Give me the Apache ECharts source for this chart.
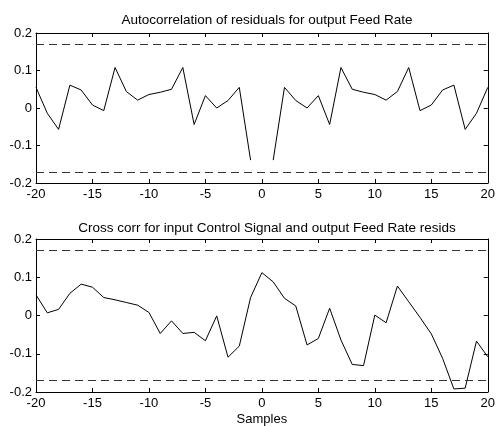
<!DOCTYPE html>
<html><head><meta charset="utf-8">
<script src="https://cdn.jsdelivr.net/npm/echarts@6/dist/echarts.min.js"></script>
<style>html,body{margin:0;padding:0;background:#fff}#c{width:498px;height:427px}</style>
</head><body><div id="c"></div>
<script>
const lags = [-20,-19,-18,-17,-16,-15,-14,-13,-12,-11,-10,-9,-8,-7,-6,-5,-4,-3,-2,-1,0,1,2,3,4,5,6,7,8,9,10,11,12,13,14,15,16,17,18,19,20];
const autoCorr = [0.055,-0.014,-0.057,0.061,0.048,0.008,-0.007,0.108,0.044,0.021,0.036,0.042,0.050,0.108,-0.044,0.033,0.000,0.020,0.055,-0.139,
  null,
  -0.139,0.055,0.020,0.000,0.033,-0.044,0.108,0.050,0.042,0.036,0.021,0.044,0.108,-0.007,0.008,0.048,0.061,-0.057,-0.014,0.055];
const crossCorr = [0.054,0.007,0.016,0.058,0.082,0.074,0.047,0.041,0.034,0.027,0.008,-0.047,-0.014,-0.047,-0.044,-0.066,-0.001,-0.109,-0.080,0.047,
  0.112,0.088,0.045,0.025,-0.077,-0.060,0.019,-0.064,-0.128,-0.131,0.001,-0.019,0.077,0.036,-0.005,-0.048,-0.112,-0.192,-0.190,-0.067,-0.108];
const confBound = 0.166;
const xTicks = [-20,-15,-10,-5,0,5,10,15,20];
const yTicks = [-0.2,-0.1,0,0.1,0.2];
const titles = ['Autocorrelation of residuals for output Feed Rate','Cross corr for input Control Signal and output Feed Rate resids'];
const xLabel = 'Samples';

const font = 'Liberation Sans, Arial, sans-serif';
const chart = echarts.init(document.getElementById('c'), null, {renderer:'canvas'});
const grids = [{left:36,right:6,top:33,height:150},{left:36,right:6,top:239,height:153}];
const xAxes = [], yAxes = [];
grids.forEach((g,i)=>{
  ['bottom','top'].forEach(pos=>{
    xAxes.push({type:'value',gridIndex:i,position:pos,min:-20,max:20,interval:5,
      axisLine:{show:true,onZero:false,lineStyle:{color:'#000',width:1}},
      axisTick:{show:true,inside:true,length:4,lineStyle:{color:'#000'}},
      axisLabel:{show:pos==='bottom',color:'#000',fontFamily:font,fontSize:13,margin:5},
      splitLine:{show:false},
      name: (i===1 && pos==='bottom') ? xLabel : '', nameLocation:'middle', nameGap:21,
      nameTextStyle:{color:'#000',fontFamily:font,fontSize:13}});
  });
  ['left','right'].forEach(pos=>{
    yAxes.push({type:'value',gridIndex:i,position:pos,min:-0.2,max:0.2,interval:0.1,
      axisLine:{show:true,onZero:false,lineStyle:{color:'#000',width:1}},
      axisTick:{show:true,inside:true,length:4,lineStyle:{color:'#000'}},
      axisLabel:{show:pos==='left',color:'#000',fontFamily:font,fontSize:13,margin:4,
        formatter:v=>String(Math.round(v*10)/10)},
      splitLine:{show:false}});
  });
});
function mkSeries(vals,i){
  return {type:'line',xAxisIndex:i*2,yAxisIndex:i*2,data:lags.map((l,k)=>[l,vals[k]]),
    showSymbol:false,symbol:'none',connectNulls:false,
    lineStyle:{color:'#000',width:1},animation:false,
    markLine:{silent:true,symbol:'none',label:{show:false},
      lineStyle:{color:'#333',type:[8,5],width:1},
      data:[{yAxis:confBound},{yAxis:-confBound}]}};
}
chart.setOption({
  animation:false,
  title:[
    {text:titles[0],left:262,top:8,textAlign:'center',textStyle:{fontFamily:font,fontSize:13.5,fontWeight:'normal',color:'#000'}},
    {text:titles[1],left:262,top:216,textAlign:'center',textStyle:{fontFamily:font,fontSize:13.5,fontWeight:'normal',color:'#000'}}
  ],
  grid:grids,
  xAxis:xAxes,
  yAxis:yAxes,
  series:[mkSeries(autoCorr,0),mkSeries(crossCorr,1)]
});
</script></body></html>
